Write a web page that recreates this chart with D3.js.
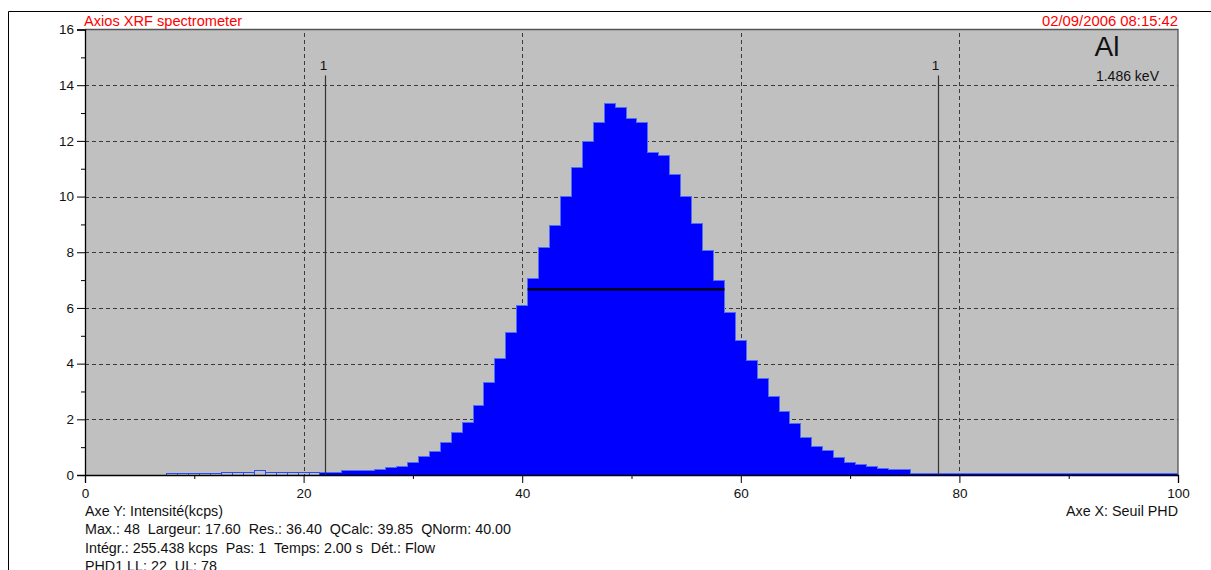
<!DOCTYPE html>
<html><head><meta charset="utf-8">
<script src="https://cdn.jsdelivr.net/npm/d3@7/dist/d3.min.js"></script>
<style>
body{margin:0;background:#fff;overflow:hidden}
svg{display:block;font-family:"Liberation Sans",Arial,sans-serif}
</style>
</head><body>
<svg id="chart" width="1211" height="570"></svg>
<script>
// ---------------- data ----------------
const channels = [8,9,10,11,12,13,14,15,16,17,18,19,20,21,22,23,24,25,26,27,28,29,30,
  31,32,33,34,35,36,37,38,39,40,41,42,43,44,45,46,47,48,49,50,51,52,53,54,55,56,57,58,59,60,
  61,62,63,64,65,66,67,68,69,70,71,72,73,74,75,76,77,78,79,80,81,82,83,84,85,86,87,88,89,90,
  91,92,93,94,95,96,97,98,99,100];
const intensity = [0.05,0.05,0.05,0.05,0.05,0.10,0.10,0.10,0.15,0.10,0.10,0.10,0.10,0.10,0.10,0.10,0.15,0.15,0.15,0.20,0.27,0.32,0.45,
  0.67,0.85,1.16,1.51,1.90,2.51,3.34,4.17,5.13,6.09,7.07,8.17,8.96,9.99,11.04,11.99,12.66,13.33,13.19,12.80,12.65,11.59,11.48,10.79,9.99,9.03,8.07,6.97,5.84,4.83,
  4.13,3.47,2.81,2.28,1.84,1.35,1.02,0.89,0.62,0.45,0.39,0.31,0.24,0.19,0.19,0.06,0.06,0.06,0.06,0.06,0.06,0.06,0.06,0.06,0.06,0.06,0.06,0.06,0.06,0.06,
  0.06,0.06,0.06,0.06,0.06,0.06,0.06,0.06,0.06,0.06];
const xMajorTicks = [0,20,40,60,80,100];
const xMinorTicks = [10,30,50,70,90];
const yMajorTicks = [0,2,4,6,8,10,12,14,16];
const yMinorTicks = [1,3,5,7,9,11,13,15];
const xGrid = [20,40,60,80];
const yGrid = [2,4,6,8,10,12,14];
const windowLimits = [22,78];          // PHD LL, UL
const windowLabels = ["1","1"];
const titleLeft = "Axios XRF spectrometer";
const titleRight = "02/09/2006 08:15:42";
const elementName = "Al";
const elementEnergy = "1.486 keV";
const axisYText = "Axe Y: Intensité(kcps)";
const axisXText = "Axe X: Seuil PHD";
const infoLines = [
  "Max.: 48  Largeur: 17.60  Res.: 36.40  QCalc: 39.85  QNorm: 40.00",
  "Intégr.: 255.438 kcps  Pas: 1  Temps: 2.00 s  Dét.: Flow",
  "PHD1 LL: 22  UL: 78"
];

// ---------------- layout ----------------
const L = 85, R = 1178, T = 29.5, B = 475;
const svg = d3.select("#chart");
const x = d3.scaleLinear().domain([0,100]).range([L,R]);
const y = d3.scaleLinear().domain([0,16]).range([B,T]);
const bars = channels.map((c,i)=>({c, v:intensity[i]}));

// outer frame (top + left)
svg.append("path").attr("d",`M8.5,1000V11.5H1300`).attr("fill","none").attr("stroke","#000").attr("stroke-width",1);

// plot background
svg.append("rect").attr("x",L).attr("y",T).attr("width",R-L).attr("height",B-T).attr("fill","#c0c0c0");

// grid
const grid = svg.append("g").attr("stroke","#3a3a3a").attr("stroke-width",1).attr("stroke-dasharray","4,3").attr("shape-rendering","crispEdges");
grid.selectAll("line.h").data(yGrid).join("line").attr("class","h")
  .attr("x1",L).attr("x2",R).attr("y1",d=>Math.round(y(d))+0.5).attr("y2",d=>Math.round(y(d))+0.5);
grid.selectAll("line.v").data(xGrid).join("line").attr("class","v")
  .attr("y1",T+3).attr("y2",B).attr("x1",d=>Math.round(x(d))+0.5).attr("x2",d=>Math.round(x(d))+0.5);

// bars
svg.append("clipPath").attr("id","clip").append("rect").attr("x",L).attr("y",T).attr("width",R-L).attr("height",B-T);
const gb = svg.append("g").attr("clip-path","url(#clip)");
const LL = windowLimits[0];
gb.selectAll("rect.bar").data(bars.filter(d=>d.c>=LL)).join("rect").attr("class","bar")
  .attr("x",d=>x(d.c-0.5)).attr("width",d=>x(d.c+0.5)-x(d.c-0.5)+0.4)
  .attr("y",d=>y(d.v)).attr("height",d=>B-y(d.v)).attr("fill","#0000ff").attr("shape-rendering","crispEdges");
// outline of the filled part
const pts = [];
bars.filter(d=>d.c>=LL).forEach(d=>{pts.push([d.c-0.5,d.v]);pts.push([d.c+0.5,d.v]);});
gb.append("path").attr("d",d3.line().x(p=>x(p[0])).y(p=>y(p[1]))(pts))
  .attr("fill","none").attr("stroke","#4f6ef2").attr("stroke-width",1).attr("shape-rendering","crispEdges");
// bars below the lower limit drawn as outlines
gb.selectAll("rect.low").data(bars.filter(d=>d.c<LL)).join("rect").attr("class","low")
  .attr("x",d=>x(d.c-0.5)).attr("width",d=>x(d.c+0.5)-x(d.c-0.5))
  .attr("y",d=>y(d.v)).attr("height",d=>B-y(d.v)).attr("fill","none").attr("stroke","#2a4cff").attr("stroke-width",1)
  .attr("shape-rendering","crispEdges");

// FWHM line
const maxV = d3.max(intensity);
const half = bars.filter(d=>d.v>=maxV/2);
svg.append("line").attr("x1",x(d3.min(half,d=>d.c)-0.5)).attr("x2",x(d3.max(half,d=>d.c)+0.5))
  .attr("y1",y(maxV/2)).attr("y2",y(maxV/2)).attr("stroke","#000").attr("stroke-width",2.2);

// PHD window markers
const markerTop = 14.35;
const mk = svg.append("g");
mk.selectAll("line").data(windowLimits).join("line")
  .attr("x1",d=>Math.round(x(d))+0.5).attr("x2",d=>Math.round(x(d))+0.5)
  .attr("y1",y(markerTop)).attr("y2",B).attr("stroke","#333").attr("stroke-width",1.2);
mk.selectAll("text").data(windowLimits).join("text")
  .attr("x",d=>x(d)-2).attr("y",y(markerTop)-5.5).attr("text-anchor","middle")
  .attr("font-size",13.5).attr("fill","#111").text((d,i)=>windowLabels[i]);

// plot border (top, right)
svg.append("path").attr("d",`M${L},${T}H${R}V${B}`).attr("fill","none").attr("stroke","#555").attr("stroke-width",1.3);

// axes
const yAxis = svg.append("g").attr("transform",`translate(${L},0)`)
  .call(d3.axisLeft(y).tickValues(yMajorTicks).tickSize(8).tickPadding(3).tickFormat(d3.format("d")));
const yMinor = svg.append("g").attr("transform",`translate(${L},0)`)
  .call(d3.axisLeft(y).tickValues(yMinorTicks).tickSize(4).tickFormat(""));
const xAxis = svg.append("g").attr("transform",`translate(0,${B})`)
  .call(d3.axisBottom(x).tickValues(xMajorTicks).tickSize(8).tickPadding(5).tickFormat(d3.format("d")));
const xMinor = svg.append("g").attr("transform",`translate(0,${B})`)
  .call(d3.axisBottom(x).tickValues(xMinorTicks).tickSize(4).tickFormat(""));
[yAxis,yMinor,xAxis,xMinor].forEach(g=>{
  g.select(".domain").attr("stroke","#000").attr("stroke-width",1.3);
  g.selectAll(".tick line").attr("stroke","#000");
  g.selectAll("text").attr("font-family","'Liberation Sans',Arial,sans-serif").attr("font-size",13.5).attr("fill","#111");
});
yMinor.select(".domain").remove(); xMinor.select(".domain").remove();

// titles
svg.append("text").attr("x",L-1).attr("y",26).attr("font-size",14.6).attr("fill","#ff0000").text(titleLeft);
svg.append("text").attr("x",R).attr("y",26).attr("text-anchor","end").attr("font-size",14).attr("fill","#ff0000")
  .attr("textLength",136).attr("lengthAdjust","spacingAndGlyphs").text(titleRight);
svg.append("text").attr("x",1107).attr("y",56).attr("text-anchor","middle").attr("font-size",28).attr("fill","#111").text(elementName);
svg.append("text").attr("x",1159).attr("y",80.5).attr("text-anchor","end").attr("font-size",14).attr("fill","#111").text(elementEnergy);

// bottom info
svg.append("text").attr("x",L).attr("y",516).attr("font-size",14.3).attr("fill","#111").text(axisYText);
svg.append("text").attr("x",R).attr("y",516).attr("text-anchor","end").attr("font-size",14.3).attr("fill","#111").text(axisXText);
svg.append("g").selectAll("text").data(infoLines).join("text")
  .attr("x",L).attr("y",(d,i)=>534+i*18.5).attr("font-size",14.3).attr("fill","#111")
  .style("white-space","pre").text(d=>d);
</script>
</body></html>
